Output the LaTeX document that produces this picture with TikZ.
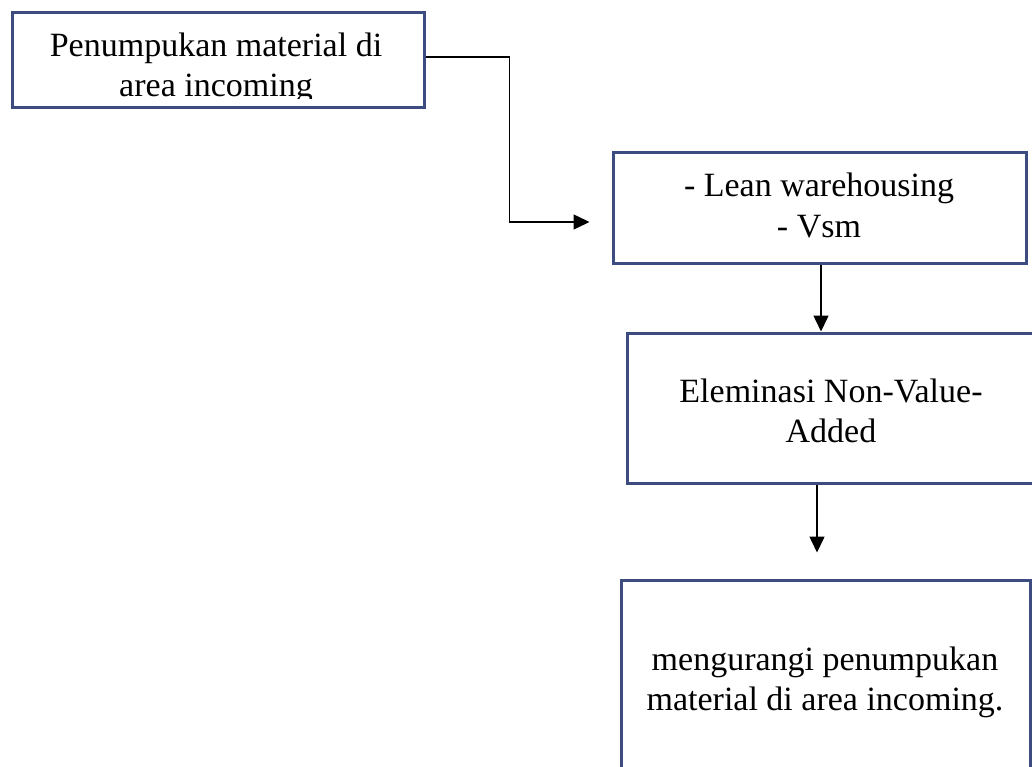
\documentclass[tikz,border=0pt]{standalone}
\usepackage{fontspec}
\setmainfont{Liberation Serif}
\usetikzlibrary{arrows.meta}
\definecolor{boxblue}{RGB}{60,76,128}
\tikzset{
  boxnode/.style={draw=boxblue, line width=3pt, rectangle, inner sep=0pt},
  txtnode/.style={inner sep=0pt, align=center, text=black, font=\fontsize{34}{40}\selectfont},
  conn/.style={draw=black, line width=1.5pt, -{Triangle[length=16pt,width=15pt]}}
}
\newcommand{\ls}{\strut}
\begin{document}
\begin{tikzpicture}[x=1pt,y=-1pt]
\clip (0,0) rectangle (1032,767);
\fill[white] (0,0) rectangle (1032,767);
% boxes
\node[boxnode, minimum width=412pt, minimum height=95pt] (b1) at (218,60.5) {};
\node[boxnode, minimum width=413pt, minimum height=110pt] (b2) at (819.5,208) {};
\node[boxnode, minimum width=409pt, minimum height=150pt] (b3) at (831.5,408) {};
\node[boxnode, minimum width=409pt, minimum height=210pt] (b4) at (825.5,685) {};
% texts
\begin{scope}
\clip (14,15) rectangle (422,99);
\node[txtnode] (t1) at (216,69) {\ls Penumpukan material di\\\ls area incoming};
\end{scope}
\node[txtnode] (t2) at (819,209) {\ls - Lean warehousing\\\ls - Vsm};
\node[txtnode] (t3) at (831,414) {\ls Eleminasi Non-Value-\\\ls Added};
\node[txtnode] (t4) at (825,682) {\ls mengurangi penumpukan\\\ls material di area incoming.};
% connectors
\draw[conn, shorten >=22pt] ([yshift=3.5pt]b1.east) -- ++(84,0) |- ([yshift=-14pt]b2.west);
\draw[conn] ([xshift=1.5pt]b2.south) -- ([xshift=1.5pt]b2.south |- b3.north);
\draw[conn, shorten >=26pt] ([xshift=-14.5pt]b3.south) -- ([xshift=-14.5pt]b3.south |- b4.north);
\end{tikzpicture}
\end{document}
